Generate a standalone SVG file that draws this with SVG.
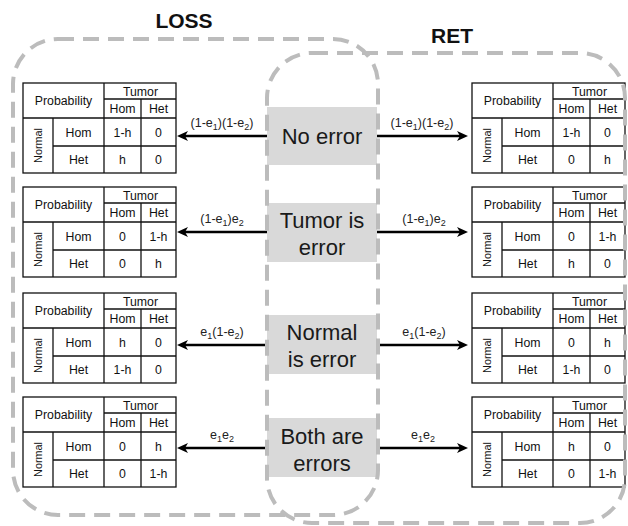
<svg xmlns="http://www.w3.org/2000/svg" xmlns:xlink="http://www.w3.org/1999/xlink" width="628" height="526" viewBox="0 0 628 526">
<style>
.tl{stroke:#111;stroke-width:1.3;fill:none}
.tt{font-family:"Liberation Sans",Arial,sans-serif;font-size:12.3px;fill:#111;text-anchor:middle}
.nm{font-size:10.8px}
.bx{fill:#d9d9d9}
.bt{font-family:"Liberation Sans",Arial,sans-serif;font-size:22px;fill:#1a1a1a;text-anchor:middle}
.ar{stroke:#000;stroke-width:2.6;fill:none}
.lb{font-family:"Liberation Sans",Arial,sans-serif;font-size:12.5px;fill:#222;text-anchor:middle}
.sb{font-size:9px}
.rg{fill:none;stroke:#bcbcbc;stroke-width:4;stroke-dasharray:16 9}
.hd{font-family:"Liberation Sans",Arial,sans-serif;font-size:21px;font-weight:bold;fill:#111;text-anchor:middle}
</style>
<defs>
<marker id="ah" markerUnits="userSpaceOnUse" markerWidth="12" markerHeight="12" refX="5" refY="5" orient="auto">
<path d="M0,0 L11,5 L0,10 L3,5 z" fill="#000"/>
</marker>
<g id="frame">
<rect class="tl" x="0" y="0" width="153" height="90"/>
<line class="tl" x1="81" y1="16" x2="153" y2="16"/>
<line class="tl" x1="0" y1="35" x2="153" y2="35"/>
<line class="tl" x1="30" y1="63" x2="153" y2="63"/>
<line class="tl" x1="30" y1="35" x2="30" y2="90"/>
<line class="tl" x1="81" y1="0" x2="81" y2="90"/>
<line class="tl" x1="118" y1="16" x2="118" y2="90"/>
<text class="tt" x="40.5" y="22">Probability</text>
<text class="tt" x="117.5" y="12.5">Tumor</text>
<text class="tt" x="99.5" y="30">Hom</text>
<text class="tt" x="135.5" y="30">Het</text>
<text class="tt nm" transform="translate(19,62.5) rotate(-90)">Normal</text>
<text class="tt" x="55.5" y="53.5">Hom</text>
<text class="tt" x="55.5" y="81">Het</text>
</g>
</defs>

<text class="hd" x="184" y="28">LOSS</text>
<text class="hd" x="452" y="43">RET</text>

<g id="loss1" transform="translate(23,83)"><use xlink:href="#frame"/>
<text class="tt" x="99.5" y="53.5">1-h</text><text class="tt" x="135.5" y="53.5">0</text>
<text class="tt" x="99.5" y="81">h</text><text class="tt" x="135.5" y="81">0</text></g>
<g id="loss2" transform="translate(23,187)"><use xlink:href="#frame"/>
<text class="tt" x="99.5" y="53.5">0</text><text class="tt" x="135.5" y="53.5">1-h</text>
<text class="tt" x="99.5" y="81">0</text><text class="tt" x="135.5" y="81">h</text></g>
<g id="loss3" transform="translate(23,293)"><use xlink:href="#frame"/>
<text class="tt" x="99.5" y="53.5">h</text><text class="tt" x="135.5" y="53.5">0</text>
<text class="tt" x="99.5" y="81">1-h</text><text class="tt" x="135.5" y="81">0</text></g>
<g id="loss4" transform="translate(23,397)"><use xlink:href="#frame"/>
<text class="tt" x="99.5" y="53.5">0</text><text class="tt" x="135.5" y="53.5">h</text>
<text class="tt" x="99.5" y="81">0</text><text class="tt" x="135.5" y="81">1-h</text></g>

<g id="ret1" transform="translate(472,83)"><use xlink:href="#frame"/>
<text class="tt" x="99.5" y="53.5">1-h</text><text class="tt" x="135.5" y="53.5">0</text>
<text class="tt" x="99.5" y="81">0</text><text class="tt" x="135.5" y="81">h</text></g>
<g id="ret2" transform="translate(472,187)"><use xlink:href="#frame"/>
<text class="tt" x="99.5" y="53.5">0</text><text class="tt" x="135.5" y="53.5">1-h</text>
<text class="tt" x="99.5" y="81">h</text><text class="tt" x="135.5" y="81">0</text></g>
<g id="ret3" transform="translate(472,293)"><use xlink:href="#frame"/>
<text class="tt" x="99.5" y="53.5">0</text><text class="tt" x="135.5" y="53.5">h</text>
<text class="tt" x="99.5" y="81">1-h</text><text class="tt" x="135.5" y="81">0</text></g>
<g id="ret4" transform="translate(472,397)"><use xlink:href="#frame"/>
<text class="tt" x="99.5" y="53.5">h</text><text class="tt" x="135.5" y="53.5">0</text>
<text class="tt" x="99.5" y="81">0</text><text class="tt" x="135.5" y="81">1-h</text></g>

<g id="case1"><rect class="bx" x="267" y="107" width="110" height="58"/>
<text class="bt" x="322" y="144">No error</text></g>
<g id="case2"><rect class="bx" x="267" y="203" width="110" height="59"/>
<text class="bt" x="322" y="228">Tumor is</text><text class="bt" x="322" y="255">error</text></g>
<g id="case3"><rect class="bx" x="267" y="315" width="110" height="59"/>
<text class="bt" x="322" y="340">Normal</text><text class="bt" x="322" y="367">is error</text></g>
<g id="case4"><rect class="bx" x="267" y="418" width="110" height="59"/>
<text class="bt" x="322" y="444">Both are</text><text class="bt" x="322" y="471">errors</text></g>

<g id="connectors">
<line class="ar" x1="267" y1="136" x2="183" y2="136" marker-end="url(#ah)"/>
<line class="ar" x1="377" y1="136" x2="462" y2="136" marker-end="url(#ah)"/>
<line class="ar" x1="267" y1="232" x2="183" y2="232" marker-end="url(#ah)"/>
<line class="ar" x1="377" y1="232" x2="462" y2="232" marker-end="url(#ah)"/>
<line class="ar" x1="267" y1="345" x2="183" y2="345" marker-end="url(#ah)"/>
<line class="ar" x1="377" y1="345" x2="462" y2="345" marker-end="url(#ah)"/>
<line class="ar" x1="267" y1="448" x2="183" y2="448" marker-end="url(#ah)"/>
<line class="ar" x1="377" y1="448" x2="462" y2="448" marker-end="url(#ah)"/>
<text class="lb" x="222" y="127">(1-e<tspan class="sb" dy="3">1</tspan><tspan dy="-3">)(1-e</tspan><tspan class="sb" dy="3">2</tspan><tspan dy="-3">)</tspan></text>
<text class="lb" x="422" y="127">(1-e<tspan class="sb" dy="3">1</tspan><tspan dy="-3">)(1-e</tspan><tspan class="sb" dy="3">2</tspan><tspan dy="-3">)</tspan></text>
<text class="lb" x="222" y="223">(1-e<tspan class="sb" dy="3">1</tspan><tspan dy="-3">)e</tspan><tspan class="sb" dy="3">2</tspan></text>
<text class="lb" x="424" y="223">(1-e<tspan class="sb" dy="3">1</tspan><tspan dy="-3">)e</tspan><tspan class="sb" dy="3">2</tspan></text>
<text class="lb" x="222" y="336">e<tspan class="sb" dy="3">1</tspan><tspan dy="-3">(1-e</tspan><tspan class="sb" dy="3">2</tspan><tspan dy="-3">)</tspan></text>
<text class="lb" x="424" y="336">e<tspan class="sb" dy="3">1</tspan><tspan dy="-3">(1-e</tspan><tspan class="sb" dy="3">2</tspan><tspan dy="-3">)</tspan></text>
<text class="lb" x="222" y="439">e<tspan class="sb" dy="3">1</tspan><tspan dy="-3">e</tspan><tspan class="sb" dy="3">2</tspan></text>
<text class="lb" x="423" y="439">e<tspan class="sb" dy="3">1</tspan><tspan dy="-3">e</tspan><tspan class="sb" dy="3">2</tspan></text>
</g>

<g id="regions">
<rect class="rg" x="13" y="39" width="365" height="476" rx="45"/>
<rect class="rg" x="267" y="53" width="358" height="470" rx="45"/>
</g>
</svg>
